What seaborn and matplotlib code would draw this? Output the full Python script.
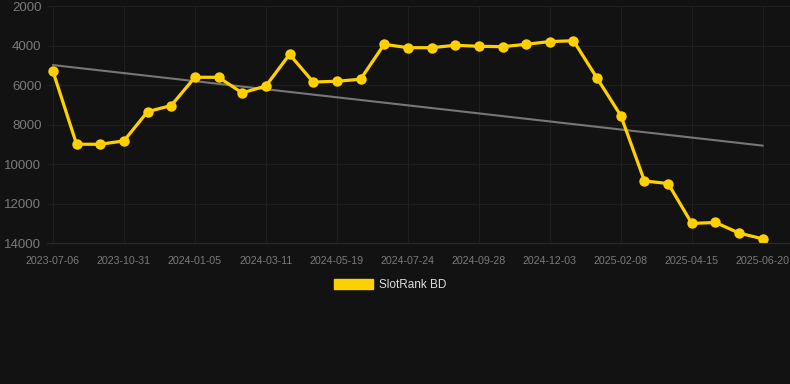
import numpy as np
import pandas as pd
import matplotlib
matplotlib.use("Agg")
import matplotlib.pyplot as plt
from matplotlib.patches import Patch
import seaborn as sns

# tick labels shown every third point on a categorical axis
tick_dates = [
    "2023-07-06", "2023-10-31", "2024-01-05", "2024-03-11", "2024-05-19",
    "2024-07-24", "2024-09-28", "2024-12-03", "2025-02-08", "2025-04-15",
    "2025-06-20",
]
ranks = [
    5300, 9000, 9000, 8830, 7350, 7040, 5610, 5610, 6400, 6050,
    4450, 5850, 5810, 5710, 3940, 4110, 4110, 3990, 4040, 4060,
    3940, 3800, 3760, 5660, 7550, 10860, 10990, 13010, 12960, 13500,
    13790,
]
trend_ends = [4990, 9070]
series_name = "SlotRank BD"

BG = "#121212"
GOLD = "#FFD000"
GRID = "#1f1f1f"
TICK = "#7a7a7a"

sns.set_theme(style="dark")
plt.rcParams["font.family"] = ["Liberation Sans", "DejaVu Sans"]

df = pd.DataFrame({"idx": np.arange(len(ranks)), "rank": ranks})
trend_df = pd.DataFrame({"idx": [0, len(ranks) - 1], "rank": trend_ends})

fig = plt.figure(figsize=(7.9, 3.84), dpi=100, facecolor=BG)
ax = fig.add_axes([47 / 790, 1 - 243 / 384, (790 - 47) / 790, (243 - 6) / 384])
ax.set_facecolor(BG)

sns.lineplot(data=trend_df, x="idx", y="rank", ax=ax, color="#777777", linewidth=1.5)
sns.lineplot(data=df, x="idx", y="rank", ax=ax, color=GOLD, linewidth=2.3,
             marker="o", markersize=7.5, markeredgewidth=0, markeredgecolor=GOLD)

ax.set_xlim(-0.25, 31.15)
ax.set_ylim(14000, 2000)
ax.set_yticks(range(2000, 14001, 2000))
ax.set_xticks(range(0, len(ranks), 3))
ax.set_xticklabels(tick_dates)
ax.set_xlabel("")
ax.set_ylabel("")

ax.grid(True, color=GRID, linewidth=0.8)
for side in ["top", "right", "left"]:
    ax.spines[side].set_visible(False)
ax.spines["bottom"].set_visible(True)
ax.spines["bottom"].set_color("#2a2a2a")
ax.spines["bottom"].set_linewidth(0.8)
ax.tick_params(axis="y", colors=TICK, labelsize=9.5, length=0, pad=4)
ax.tick_params(axis="x", colors=TICK, labelsize=7.7, length=0, pad=9)

fig.legend(handles=[Patch(facecolor=GOLD, edgecolor=GOLD, label=series_name)],
           loc="center", bbox_to_anchor=(390 / 790, 1 - 285 / 384),
           frameon=False, labelcolor="#dddddd", fontsize=8.5,
           handlelength=3.3, handleheight=1.0, handletextpad=0.5)

fig.savefig("out.png", dpi=100, facecolor=BG)
